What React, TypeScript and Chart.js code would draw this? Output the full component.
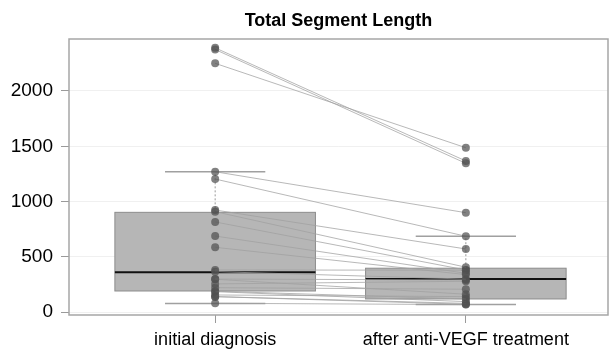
import React, { useEffect, useRef } from "react";
import { Chart, registerables } from "chart.js";

Chart.register(...registerables);

const title = "Total Segment Length";
const categories = ["initial diagnosis", "after anti-VEGF treatment"];
const yTicks = [0, 500, 1000, 1500, 2000];

// paired observations (one per subject)
const initialValues = [2390, 2375, 2250, 1270, 1204, 924, 909, 816, 689, 587, 382, 367, 300, 298, 256, 222, 190, 186, 156, 141, 141, 81];
const afterValues = [1367, 1346, 1487, 900, 687, 572, 407, 382, 352, 340, 380, 300, 292, 163, 280, 208, 120, 96, 141, 80, 72, 69];

// box statistics per category
const boxMin = [78, 69];
const boxQ1 = [192, 120];
const boxMedian = [361, 301];
const boxQ3 = [903, 398];
const boxMax = [1270, 687];

const FONT = "'Liberation Sans', Arial, Helvetica, sans-serif";

const titlePlugin = {
  id: "centeredTitle",
  afterDraw(chart: any) {
    const { ctx, chartArea } = chart;
    ctx.save();
    ctx.fillStyle = "#000";
    ctx.font = "bold 18px " + FONT;
    ctx.textAlign = "center";
    ctx.textBaseline = "middle";
    ctx.fillText(title, (chartArea.left + chartArea.right) / 2, 21);
    ctx.restore();
  },
};

const boxPlugin = {
  id: "boxPlugin",
  beforeDatasetsDraw(chart: any) {
    const { ctx, chartArea, scales } = chart;
    const x = scales.x;
    const y = scales.y;
    ctx.save();
    for (let i = 0; i < categories.length; i++) {
      const cx = x.getPixelForValue(i + 1);
      const hw = x.getPixelForValue(i + 1 + 0.4) - cx;
      const cw = x.getPixelForValue(i + 1 + 0.2) - cx;
      const yq1 = y.getPixelForValue(boxQ1[i]);
      const yq3 = y.getPixelForValue(boxQ3[i]);
      const ymed = y.getPixelForValue(boxMedian[i]);
      const ymin = y.getPixelForValue(boxMin[i]);
      const ymax = y.getPixelForValue(boxMax[i]);
      ctx.strokeStyle = "#9a9a9a";
      ctx.lineWidth = 1;
      ctx.setLineDash([2, 2]);
      ctx.beginPath();
      ctx.moveTo(cx, yq3);
      ctx.lineTo(cx, ymax);
      ctx.moveTo(cx, yq1);
      ctx.lineTo(cx, ymin);
      ctx.stroke();
      ctx.setLineDash([]);
      ctx.strokeStyle = "#a0a0a0";
      ctx.lineWidth = 1.5;
      ctx.beginPath();
      ctx.moveTo(cx - cw, ymax);
      ctx.lineTo(cx + cw, ymax);
      ctx.moveTo(cx - cw, ymin);
      ctx.lineTo(cx + cw, ymin);
      ctx.stroke();
      ctx.fillStyle = "#b6b6b6";
      ctx.fillRect(cx - hw, yq3, 2 * hw, yq1 - yq3);
      ctx.strokeStyle = "#8c8c8c";
      ctx.lineWidth = 1;
      ctx.strokeRect(cx - hw, yq3, 2 * hw, yq1 - yq3);
      ctx.strokeStyle = "#111111";
      ctx.lineWidth = 2;
      ctx.beginPath();
      ctx.moveTo(cx - hw, ymed);
      ctx.lineTo(cx + hw, ymed);
      ctx.stroke();
    }
    ctx.strokeStyle = "#a6a6a6";
    ctx.lineWidth = 1.5;
    ctx.strokeRect(chartArea.left, chartArea.top, chartArea.right - chartArea.left, chartArea.bottom - chartArea.top);
    ctx.restore();
  },
};

export default function App() {
  const ref = useRef<HTMLCanvasElement | null>(null);
  useEffect(() => {
    document.body.style.margin = "0";
    const canvas = ref.current;
    if (!canvas) return;
    const datasets = initialValues.map((v, i) => ({
      label: "subject " + (i + 1),
      data: [
        { x: 1, y: v },
        { x: 2, y: afterValues[i] },
      ],
      showLine: true,
      borderColor: "rgba(160,160,160,0.75)",
      borderWidth: 1,
      pointRadius: 4,
      pointBorderWidth: 0,
      pointBackgroundColor: "rgba(80,80,80,0.72)",
    }));
    const chart = new Chart(canvas, {
      type: "scatter",
      data: { datasets },
      plugins: [boxPlugin, titlePlugin],
      options: {
        animation: false,
        responsive: false,
        devicePixelRatio: 1,
        layout: { padding: { top: 39, right: 1, bottom: 0, left: 0 } },
        plugins: {
          legend: { display: false },
          tooltip: { enabled: false },
          title: { display: false },
        },
        scales: {
          x: {
            type: "linear",
            min: 0.417,
            max: 2.567,
            afterBuildTicks: (axis: any) => {
              axis.ticks = categories.map((_, i) => ({ value: i + 1 }));
            },
            afterFit: (axis: any) => {
              axis.height = 38;
            },
            ticks: {
              autoSkip: false,
              maxRotation: 0,
              padding: 6,
              color: "#000",
              font: { family: FONT, size: 18 },
              callback: (v: any) => categories[Math.round(v) - 1] ?? "",
            },
            grid: {
              display: true,
              drawOnChartArea: false,
              drawTicks: true,
              tickLength: 8,
              tickColor: "#9a9a9a",
            },
            border: { display: false },
          },
          y: {
            type: "linear",
            min: -25,
            max: 2470,
            afterBuildTicks: (axis: any) => {
              axis.ticks = yTicks.map((v) => ({ value: v }));
            },
            afterFit: (axis: any) => {
              axis.width = 69;
            },
            ticks: {
              autoSkip: false,
              padding: 8,
              color: "#000",
              font: { family: FONT, size: 19 },
              callback: (v: any) => String(v),
            },
            grid: {
              color: "rgba(0,0,0,0.06)",
              tickColor: "#9a9a9a",
              tickLength: 8,
              lineWidth: 1,
            },
            border: { display: false },
          },
        },
      },
    });
    return () => chart.destroy();
  }, []);
  return (
    <div style={{ width: 612, height: 353 }}>
      <canvas ref={ref} width={612} height={353} />
    </div>
  );
}
